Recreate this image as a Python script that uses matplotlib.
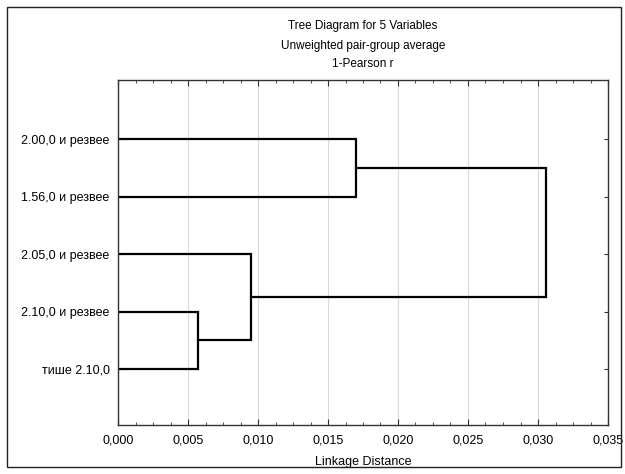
import matplotlib
matplotlib.use('Agg')
import matplotlib.pyplot as plt
from matplotlib.patches import Rectangle
from matplotlib.ticker import MultipleLocator, FuncFormatter

plt.rcParams['font.family'] = ['Liberation Sans', 'DejaVu Sans']

labels = ['2.00,0 и резвее', '1.56,0 и резвее', '2.05,0 и резвее',
          '2.10,0 и резвее', 'тише 2.10,0']
# merges: (left node, right node, linkage distance); nodes >= 5 are clusters
merge_a = [3, 2, 0, 7]
merge_b = [4, 5, 1, 6]
merge_dist = [0.0057, 0.0095, 0.0170, 0.0306]

fig = plt.figure(figsize=(6.25, 4.74), dpi=100)
fig.patches.append(Rectangle((7 / 625, 7 / 474), 614 / 625, 460 / 474,
                             transform=fig.transFigure, fill=False,
                             edgecolor='#222222', linewidth=1.0))
ax = fig.add_axes([118 / 625, 1 - 425 / 474, 490 / 625, 345 / 474])

pos = {i: i + 1 for i in range(len(labels))}
height = {i: 0.0 for i in range(len(labels))}
for k, (a, b, d) in enumerate(zip(merge_a, merge_b, merge_dist)):
    ya, yb = pos[a], pos[b]
    ax.plot([height[a], d, d, height[b]], [ya, ya, yb, yb],
            color='black', linewidth=1.6, solid_joinstyle='miter')
    node = len(labels) + k
    pos[node] = (ya + yb) / 2
    height[node] = d

ax.set_xlim(0, 0.035)
ax.set_ylim(5.97, -0.03)
ax.xaxis.set_major_locator(MultipleLocator(0.005))
ax.xaxis.set_minor_locator(MultipleLocator(0.00125))
ax.xaxis.set_major_formatter(FuncFormatter(lambda v, p: f'{v:.3f}'.replace('.', ',')))
ax.set_yticks(range(1, len(labels) + 1))
ax.set_yticklabels(labels)
ax.tick_params(axis='both', which='both', direction='in', top=True, right=True,
               labelsize=9, color='#333333')
ax.tick_params(axis='x', which='major', length=4, pad=7)
ax.tick_params(axis='x', which='minor', length=2)
ax.tick_params(axis='y', length=3, pad=6)
ax.grid(axis='x', which='major', color='#dadada', linewidth=0.8)
ax.set_axisbelow(True)
for s in ax.spines.values():
    s.set_color('#333333')
    s.set_linewidth(1.0)
ax.set_xlabel('Linkage Distance', fontsize=9, labelpad=7)

fig.text(363 / 625, 1 - 26 / 474, 'Tree Diagram for 5 Variables', ha='center', va='center', fontsize=8.5)
fig.text(363 / 625, 1 - 46 / 474, 'Unweighted pair-group average', ha='center', va='center', fontsize=8.5)
fig.text(363 / 625, 1 - 64 / 474, '1-Pearson r', ha='center', va='center', fontsize=8.5)

fig.savefig('out.png', dpi=100)
